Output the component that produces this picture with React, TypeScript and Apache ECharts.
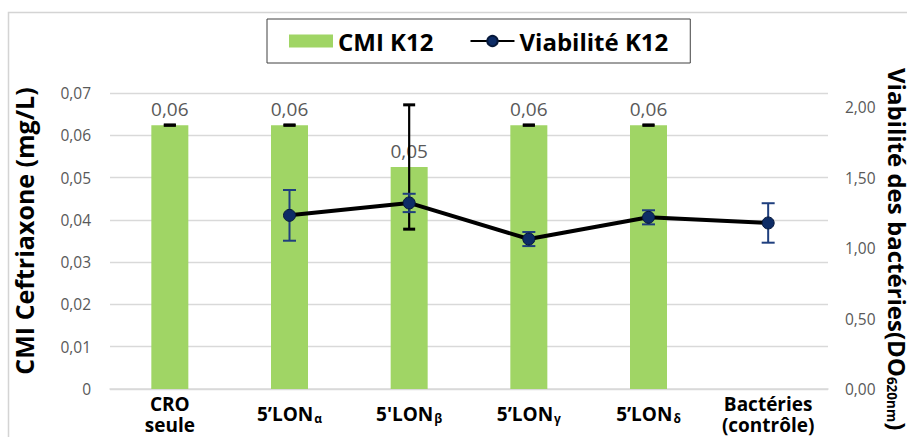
import React, { useEffect, useRef } from 'react';
import * as echarts from 'echarts';

const categories = ['CRO\nseule', '5’LONα', "5'LONβ", '5’LONγ', '5’LONδ', 'Bactéries\n(contrôle)'];
const cmiValues: (number | null)[] = [0.0624, 0.0624, 0.0525, 0.0624, 0.0624, null];
const cmiErrors: (number | null)[] = [0, 0, 0.0147, 0, 0, null];
const viabilityValues: (number | null)[] = [null, 1.232, 1.32, 1.064, 1.218, 1.178];
const viabilityErrors: (number | null)[] = [null, 0.18, 0.065, 0.05, 0.05, 0.14];
const cmiAxisTicks = { min: 0, max: 0.07, interval: 0.01 };
const viabilityAxisTicks = { min: 0, max: 2.1, interval: 0.5 };

const FONT = "'Open Sans', 'Noto Sans', sans-serif";
const GREEN = '#a0d565';
const NAVY = '#0d2c66';
const ERR_BLUE = '#1f3f7e';

const makeErrorRender = (color: string, lineWidth: number, capWidth: number, capHalf: number) =>
  (params: any, api: any) => {
    const x = api.value(0);
    const v = api.value(1);
    const e = api.value(2);
    const top = api.coord([x, v + e]);
    const bot = api.coord([x, v - e]);
    const children: any[] = [];
    if (e > 0) {
      children.push({ type: 'line', shape: { x1: top[0], y1: top[1], x2: bot[0], y2: bot[1] }, style: { stroke: color, lineWidth } });
    }
    children.push({ type: 'line', shape: { x1: top[0] - capHalf, y1: top[1], x2: top[0] + capHalf, y2: top[1] }, style: { stroke: color, lineWidth: capWidth } });
    children.push({ type: 'line', shape: { x1: bot[0] - capHalf, y1: bot[1], x2: bot[0] + capHalf, y2: bot[1] }, style: { stroke: color, lineWidth: capWidth } });
    return { type: 'group', children };
  };

const fmtComma = (v: number) => v.toFixed(2).replace('.', ',');

const xLabelFormatter = (label: string) => {
  const m = label.match(/^(.*LON)(.)$/);
  if (m) return `{b|${m[1]}}{s|${m[2]}}`;
  return label.split('\n').map((l) => `{b|${l}}`).join('\n');
};

export default function App() {
  const ref = useRef<HTMLDivElement>(null);
  useEffect(() => {
    if (!ref.current) return;
    const chart = echarts.init(ref.current, undefined, { renderer: 'svg' });
    const barErrData = cmiValues
      .map((v, i) => (v == null ? null : [i, v, cmiErrors[i] ?? 0]))
      .filter((d) => d !== null);
    const viaErrData = viabilityValues
      .map((v, i) => (v == null ? null : [i, v, viabilityErrors[i] ?? 0]))
      .filter((d) => d !== null);

    chart.setOption({
      animation: false,
      backgroundColor: '#fff',
      textStyle: { fontFamily: FONT },
      grid: { left: 110, right: 79, top: 93, bottom: 48, containLabel: false },
      legend: {
        data: [{ name: 'CMI K12', icon: 'rect' }, { name: 'Viabilité K12' }],
        left: 267,
        top: 19,
        padding: [10, 22, 10, 22],
        itemGap: 36,
        itemWidth: 44,
        itemHeight: 13,
        borderColor: '#404040',
        borderWidth: 1,
        textStyle: { fontFamily: FONT, fontWeight: 'bold', fontSize: 24, color: '#000' },
      },
      xAxis: {
        type: 'category',
        data: categories,
        axisTick: { show: false },
        axisLine: { lineStyle: { color: '#d9d9d9', width: 1.5 } },
        axisLabel: {
          interval: 0,
          margin: 25,
          verticalAlign: 'middle',
          formatter: xLabelFormatter,
          rich: {
            b: { fontFamily: FONT, fontSize: 19, fontWeight: 'bold', color: '#000', lineHeight: 21 },
            s: { fontFamily: FONT, fontSize: 12, fontWeight: 'bold', color: '#000', padding: [9, 0, 0, 1] },
          },
        },
      },
      yAxis: [
        {
          type: 'value',
          min: cmiAxisTicks.min,
          max: cmiAxisTicks.max,
          interval: cmiAxisTicks.interval,
          axisLine: { show: false },
          axisTick: { show: false },
          splitLine: { lineStyle: { color: '#d9d9d9', width: 1.3 } },
          axisLabel: {
            margin: 19,
            color: '#595959',
            fontSize: 15.5,
            fontFamily: FONT,
            formatter: (v: number) => (v === 0 ? '0' : fmtComma(v)),
          },
        },
        {
          type: 'value',
          min: viabilityAxisTicks.min,
          max: viabilityAxisTicks.max,
          interval: viabilityAxisTicks.interval,
          axisLine: { show: false },
          axisTick: { show: false },
          splitLine: { show: false },
          axisLabel: {
            margin: 17,
            color: '#595959',
            fontSize: 15.5,
            fontFamily: FONT,
            showMaxLabel: false,
            formatter: (v: number) => fmtComma(v),
          },
        },
      ],
      series: [
        {
          name: 'CMI K12',
          type: 'bar',
          data: cmiValues,
          barWidth: 37,
          itemStyle: { color: GREEN },
          label: {
            show: true,
            position: 'top',
            distance: 7,
            color: '#595959',
            fontSize: 19,
            fontFamily: FONT,
            formatter: (p: any) => fmtComma(p.value),
          },
          z: 2,
        },
        {
          name: 'cmiErr',
          type: 'custom',
          data: barErrData,
          encode: { x: 0, y: 1 },
          renderItem: makeErrorRender('#000', 2.2, 3, 6),
          z: 3,
        },
        {
          name: 'viaErr',
          type: 'custom',
          yAxisIndex: 1,
          data: viaErrData,
          encode: { x: 0, y: 1 },
          renderItem: makeErrorRender(ERR_BLUE, 2, 2, 6.5),
          z: 4,
        },
        {
          name: 'Viabilité K12',
          type: 'line',
          yAxisIndex: 1,
          data: viabilityValues,
          symbol: 'circle',
          symbolSize: 12,
          lineStyle: { color: '#000', width: 4 },
          itemStyle: { color: NAVY, borderColor: '#06183a', borderWidth: 1 },
          z: 5,
        },
      ],
      graphic: [
        {
          type: 'rect',
          shape: { x: 8.5, y: 12.5, width: 1000, height: 1000 },
          style: { fill: 'none', stroke: '#d4d4d4', lineWidth: 1.5 },
          silent: true,
          z: -10,
        },
        {
          type: 'text',
          x: 24,
          y: 231,
          rotation: Math.PI / 2,
          style: {
            text: 'CMI Ceftriaxone (mg/L)',
            fontFamily: FONT,
            fontSize: 25,
            fontWeight: 'bold',
            fill: '#000',
            align: 'center',
            verticalAlign: 'middle',
          },
        },
        {
          type: 'text',
          x: 897,
          y: 68,
          rotation: -Math.PI / 2,
          style: {
            text: '{a|Viabilité des bactéries(DO}{s|620nm}{a|)}',
            align: 'left',
            verticalAlign: 'middle',
            rich: {
              a: { fontFamily: FONT, fontSize: 24, fontWeight: 'bold', fill: '#000' },
              s: { fontFamily: FONT, fontSize: 13.5, fontWeight: 'bold', fill: '#000', padding: [11, 0, 0, 0] },
            },
          },
        },
      ],
    });
    return () => chart.dispose();
  }, []);
  return (
    <div
      ref={ref}
      style={{ position: 'fixed', left: 0, top: 0, width: 907, height: 437, background: '#fff' }}
    />
  );
}
